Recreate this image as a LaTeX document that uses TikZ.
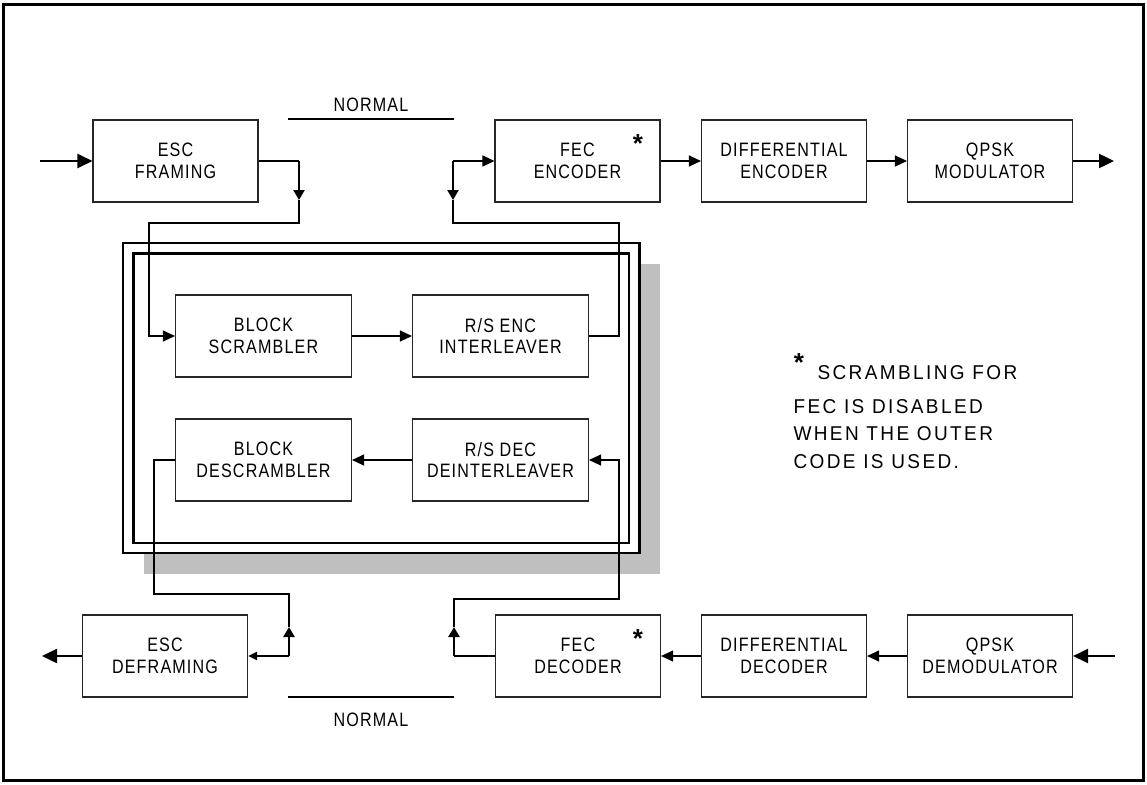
\documentclass[tikz,border=0pt]{standalone}
\usepackage{fontspec}
\setmainfont{Liberation Sans}
\newfontfamily\boxfont[FakeStretch=0.83,LetterSpace=6]{Liberation Sans}
\newfontfamily\notefont[FakeStretch=0.95,LetterSpace=12]{Liberation Sans}
\usetikzlibrary{arrows.meta}

\begin{document}
\begin{tikzpicture}[x=1pt,y=-1pt,
  blk/.style={draw=black!85,line width=1.1pt,minimum width=165pt,minimum height=82pt,
    inner sep=0pt,align=center,font=\fontsize{19.4}{21.7}\boxfont},
  wide/.style={blk,minimum width=176pt},
  wire/.style={line width=1.1pt},
  arr/.style={wire,-{Triangle[length=12pt,width=11pt]}},
  stub/.style={line width=2.4pt},
  big/.style={line width=2.4pt,-{Triangle[length=15pt,width=14pt]}},
  lbl/.style={anchor=base,font=\fontsize{19.4}{21.7}\boxfont},
  note/.style={anchor=base west,font=\fontsize{20}{24}\notefont},
  star/.style={anchor=base,inner sep=0pt,font=\fontsize{26}{26}\bfseries}]
\useasboundingbox (0,0) rectangle (1147,784);
\draw[line width=3pt] (3,5) rectangle (1143,780);
% Shadowed double frame round the outer code
\fill[black!25] (144,264) rectangle (659.5,573.5);
\filldraw[fill=white,line width=2.2pt] (123.3,243.3) rectangle (639.5,553.3);
\draw[line width=2.2pt] (133.5,253.5) rectangle (629.3,542.8);
% Transmit chain
\node[blk] (frm) at (175.5,161) {ESC\\FRAMING};
\node[blk] (fenc) at (577.5,161) {FEC\\ENCODER};
\node[blk] (denc) at (784,161) {DIFFERENTIAL\\ENCODER};
\node[blk] (qmod) at (990,161) {QPSK\\MODULATOR};
\node[star] (astA) at (638,152) {*};
% Outer code blocks
\node[wide] (bscr) at (263.5,336) {BLOCK\\SCRAMBLER};
\node[wide] (rsenc) at (500.5,336) {R/S ENC\\INTERLEAVER};
\node[wide] (bdes) at (263.5,460) {BLOCK\\DESCRAMBLER};
\node[wide] (rsdec) at (500.5,460) {R/S DEC\\DEINTERLEAVER};
% Receive chain
\node[blk] (dfrm) at (165,656) {ESC\\DEFRAMING};
\node[blk] (fdec) at (578,656) {FEC\\DECODER};
\node[blk] (ddec) at (784,656) {DIFFERENTIAL\\DECODER};
\node[blk] (qdem) at (990,656) {QPSK\\DEMODULATOR};
\node[star] (astB) at (638,647) {*};
% Switch points and bends
\coordinate (fin) at (40,161);
\coordinate (qout) at (1114,161);
\coordinate (swA) at (299,161);
\coordinate (swAd) at (299,200);
\coordinate (fbA) at (149,223);
\coordinate (swB) at (453,161);
\coordinate (swBd) at (453,200);
\coordinate (fbB) at (619,223);
\coordinate (qin) at (1115,656);
\coordinate (dout) at (42,656);
\coordinate (swC) at (454,656);
\coordinate (swCu) at (454,627);
\coordinate (fbC) at (619,599);
\coordinate (swD) at (289,656);
\coordinate (swDu) at (289,627);
\coordinate (fbD) at (154,594);
% Transmit connections
\draw[big] (fin) -- (frm.west);
\draw[wire] (frm.east) -- (swA);
\draw[stub,-{Triangle[length=10pt,width=11pt]}] (swA) -- (swAd);
\draw[arr] (swAd) |- (fbA) |- (bscr.west);
\draw[arr] (bscr) -- (rsenc);
\draw[wire] (rsenc.east) -| (fbB) -| (swBd);
\draw[stub,-{Triangle[length=10pt,width=11pt]}] (swB) -- (swBd);
\draw[arr] (swB) -- (fenc.west);
\draw[arr] (fenc) -- (denc);
\draw[arr] (denc) -- (qmod);
\draw[big] (qmod.east) -- (qout);
% Receive connections
\draw[big] (qin) -- (qdem.east);
\draw[arr] (qdem) -- (ddec);
\draw[arr] (ddec) -- (fdec);
\draw[stub] (fdec.west) -- (swC);
\draw[stub,-{Triangle[length=10pt,width=11pt]}] (swC) -- (swCu);
\draw[arr] (swCu) |- (fbC) |- (rsdec.east);
\draw[arr] (rsdec) -- (bdes);
\draw[wire] (bdes.west) -| (fbD) -| (swDu);
\draw[stub,-{Triangle[length=10pt,width=11pt]}] (swD) -- (swDu);
\draw[stub,-{Triangle[length=9pt,width=8pt]}] (swD) -- (dfrm.east);
\draw[big] (dfrm.west) -- (dout);
% Normal bypass
\draw[line width=1.8pt] (288,119.3) -- (454,119.3);
\node[lbl] (nrmA) at (371,111) {NORMAL};
\draw[line width=1.8pt] (288,697) -- (454,697);
\node[lbl] (nrmB) at (371,726) {NORMAL};
% Footnote
\node[star] (astC) at (799,371) {*};
\node[note] (ntA) at (814,379.3) {SCRAMBLING FOR};
\node[note] (ntB) at (790,413.3) {FEC IS DISABLED};
\node[note] (ntC) at (790,440.5) {WHEN THE OUTER};
\node[note] (ntD) at (790,468.3) {CODE IS USED.};
\end{tikzpicture}
\end{document}
